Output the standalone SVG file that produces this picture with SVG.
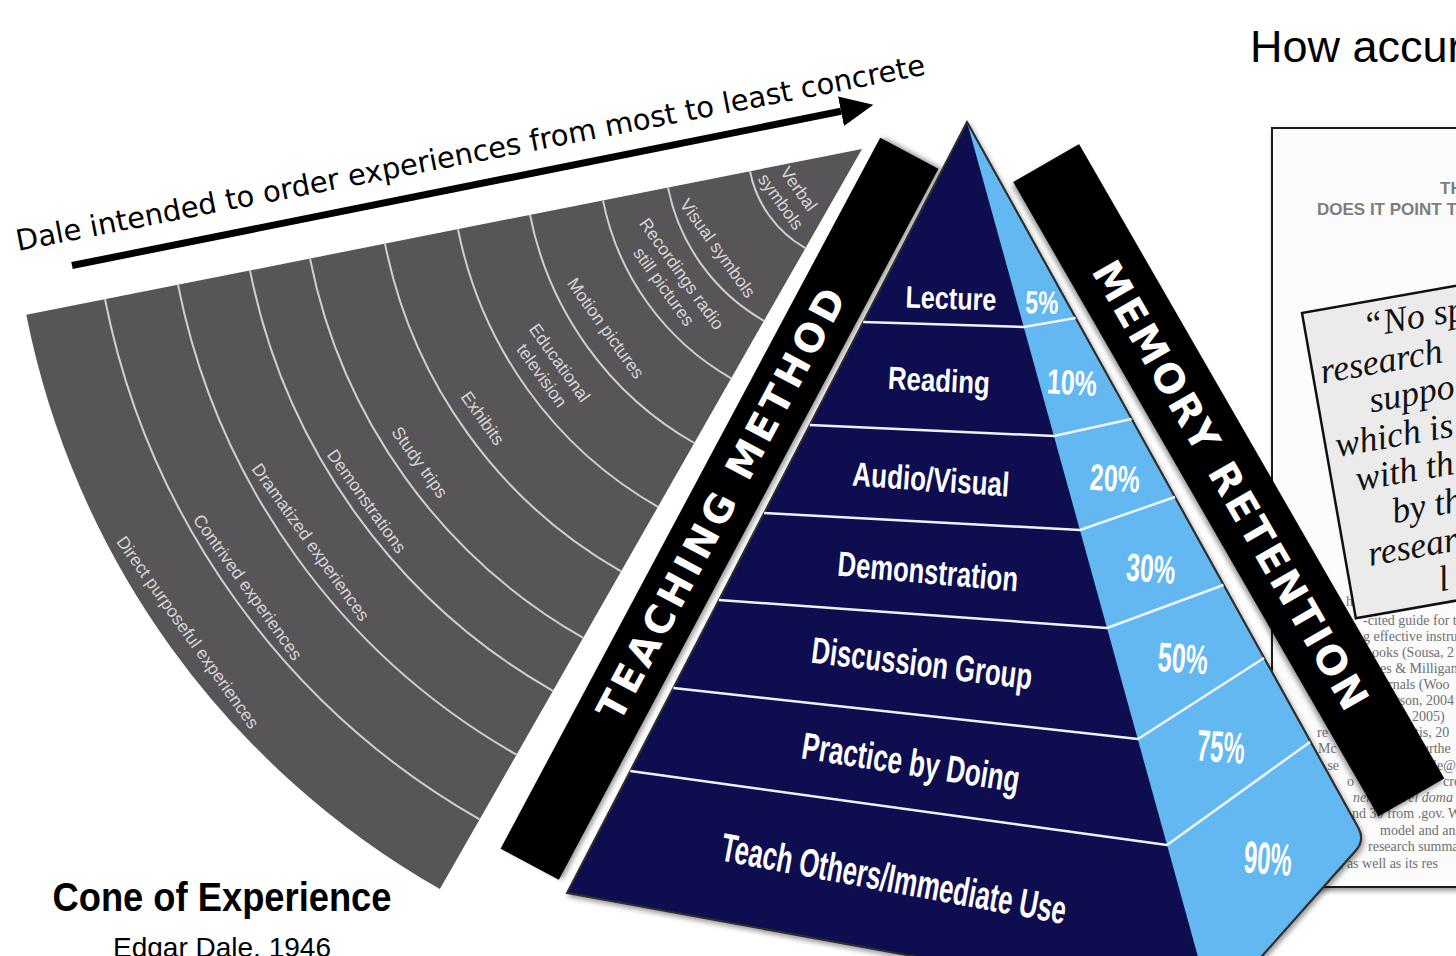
<svg xmlns="http://www.w3.org/2000/svg" width="1456" height="956" viewBox="0 0 1456 956">
<defs>
<style>
.fanlbl{font-family:"Liberation Sans",Arial,sans-serif;font-size:17.5px;fill:#d6d6d6;text-anchor:middle}
.arc{fill:none;stroke:#d0d0d0;stroke-width:2}
.band{fill:none;stroke:#eef3ff;stroke-width:2.5;stroke-linejoin:round}
.pyr{font-family:"Liberation Sans",Arial,sans-serif;font-weight:bold;fill:#fff;text-anchor:middle}
.bar{font-family:"DejaVu Sans",Verdana,sans-serif;font-weight:bold;fill:#fff;text-anchor:middle}
.body{font-family:"Liberation Serif","Times New Roman",serif;font-size:14px;fill:#6f6f6f}
.quote{font-family:"Liberation Serif","Times New Roman",serif;font-style:italic;font-size:36px;fill:#111}
</style>
<filter id="sh" x="-10%" y="-10%" width="130%" height="130%"><feDropShadow dx="2" dy="3" stdDeviation="2.5" flood-color="#000" flood-opacity="0.4"/></filter>
<marker id="ah" markerUnits="userSpaceOnUse" markerWidth="34" markerHeight="30" refX="0" refY="15" orient="auto"><path d="M0,0 L33,15 L0,30 Z" fill="#000"/></marker>
</defs>
<rect width="1456" height="956" fill="#fff"/>

<g id="cone">
<path d="M862,149 L26.3,314.8 A852,852 0 0 0 439.9,889.1 Z" fill="#575557"/>
<path class="arc" d="M105,299.2 A771.8,771.8 0 0 0 479.6,819.4"/>
<path class="arc" d="M178,284.7 A697.3,697.3 0 0 0 516.5,754.7"/>
<path class="arc" d="M250,270.4 A623.9,623.9 0 0 0 552.9,690.9"/>
<path class="arc" d="M310,258.5 A562.8,562.8 0 0 0 583.2,637.9"/>
<path class="arc" d="M385,243.6 A486.3,486.3 0 0 0 621.1,571.4"/>
<path class="arc" d="M458,229.2 A411.9,411.9 0 0 0 657.9,506.8"/>
<path class="arc" d="M530,214.9 A338.5,338.5 0 0 0 694.3,443"/>
<path class="arc" d="M603,200.4 A264,264 0 0 0 731.2,378.3"/>
<path class="arc" d="M668,187.5 A197.8,197.8 0 0 0 764,320.8"/>
<path class="arc" d="M750,171.2 A114.2,114.2 0 0 0 805.4,248.2"/>
<text class="fanlbl" transform="translate(790,195) rotate(54.5)"><tspan x="0" y="-4.7">Verbal</tspan><tspan x="0" y="17.3">symbols</tspan></text>
<text class="fanlbl" transform="translate(718,248) rotate(54.5)" y="6.3">Visual symbols</text>
<text class="fanlbl" transform="translate(673,280) rotate(54.5)"><tspan x="0" y="-4.7">Recordings radio</tspan><tspan x="0" y="17.3">still pictures</tspan></text>
<text class="fanlbl" transform="translate(606,328) rotate(54.5)" y="6.3">Motion pictures</text>
<text class="fanlbl" transform="translate(551,369) rotate(54.5)"><tspan x="0" y="-4.7">Educational</tspan><tspan x="0" y="17.3">television</tspan></text>
<text class="fanlbl" transform="translate(483,418) rotate(54.5)" y="6.3">Exhibits</text>
<text class="fanlbl" transform="translate(420,462) rotate(54.5)" y="6.3">Study trips</text>
<text class="fanlbl" transform="translate(367,501) rotate(54.5)" y="6.3">Demonstrations</text>
<text class="fanlbl" transform="translate(311,542) rotate(54.5)" y="6.3">Dramatized experiences</text>
<text class="fanlbl" transform="translate(248,587) rotate(54.5)" y="6.3">Contrived experiences</text>
<text class="fanlbl" transform="translate(188,632) rotate(54.5)" y="6.3">Direct purposeful experiences</text>
</g>

<g id="connectors">
<line x1="72" y1="265.5" x2="841" y2="111.3" stroke="#000" stroke-width="7" marker-end="url(#ah)"/>
</g>
<g id="arrow-label">
<text transform="translate(18,251) rotate(-11)" font-family="DejaVu Sans,Verdana,sans-serif" font-size="29" fill="#000">Dale intended to order experiences from most to least concrete</text>
</g>

<g id="page">
<rect x="1272" y="128" width="200" height="759" fill="#fbfbfb" stroke="#1a1a1a" stroke-width="2" filter="url(#sh)"/>
<text x="1440" y="194" font-family="Liberation Sans,Arial,sans-serif" font-weight="bold" font-size="17" fill="#7d7d7d">TH</text>
<text x="1317" y="215" font-family="Liberation Sans,Arial,sans-serif" font-weight="bold" font-size="17" fill="#7d7d7d">DOES IT POINT T</text>
<text class="body" x="1346" y="606">he</text>
<text class="body" x="1363" y="625">-cited guide for te</text>
<text class="body" x="1363" y="641">g effective instru</text>
<text class="body" x="1372" y="657">ooks (Sousa, 2</text>
<text class="body" x="1380" y="673">es &amp; Milligan</text>
<text class="body" x="1388" y="689">rnals (Woo</text>
<text class="body" x="1395" y="705">rson, 2004</text>
<text class="body" x="1405" y="721">, 2005)</text>
<text class="body" x="1317" y="737">re</text>
<text class="body" x="1415" y="737">tis, 20</text>
<text class="body" x="1318" y="753">Mc</text>
<text class="body" x="1422" y="753">urthe</text>
<text class="body" x="1320" y="770">t se</text>
<text class="body" x="1433" y="770">le@</text>
<text class="body" x="1347" y="786">o</text>
<text class="body" x="1443" y="786">cre</text>
<text class="body" x="1353" y="802" font-style="italic">ner</text>
<text class="body" x="1402" y="802" font-style="italic">vel doma</text>
<text class="body" x="1352" y="818">nd 30 from .gov. W</text>
<text class="body" x="1380" y="835">model and an i</text>
<text class="body" x="1368" y="851">research summar</text>
<text class="body" x="1336" y="868">l, as well as its res</text>
</g>

<g id="quote" transform="rotate(-10 1302 313)">
<rect x="1302" y="313" width="330" height="310" fill="#ebebeb" stroke="#111" stroke-width="2.5"/>
<text class="quote" x="1360" y="348">“No sp</text>
<text class="quote" x="1310" y="386">research</text>
<text class="quote" x="1353" y="423">suppo</text>
<text class="quote" x="1312" y="461">which is</text>
<text class="quote" x="1326" y="498">with th</text>
<text class="quote" x="1356" y="536">by th</text>
<text class="quote" x="1325" y="574">resear</text>
<text class="quote" x="1390" y="611">l</text>
</g>

<g id="memory-retention" transform="translate(1228.75,480.25) rotate(60.07)">
<rect x="-366" y="-38" width="732" height="76" fill="#000" filter="url(#sh)"/>
<text class="bar" x="5" y="15" font-size="40" textLength="511" lengthAdjust="spacing">MEMORY RETENTION</text>
</g>

<g id="teaching-method" transform="translate(719.5,508.75) rotate(-61.9)">
<rect x="-403" y="-33" width="806" height="66" fill="#000" filter="url(#sh)"/>
<text class="bar" x="5" y="13" font-size="39" textLength="483" lengthAdjust="spacing">TEACHING METHOD</text>
</g>

<g id="pyramid">
<path d="M967,122 L567,893 L1213,1011 L1355.7,850.5 Q1365,840 1358.2,827.8 Z" fill="#0b1150" stroke="#2e2e2e" stroke-width="2" filter="url(#sh)"/>
<path d="M967,122 L1213,1011 L1355.7,850.5 Q1365,840 1358.2,827.8 Z" fill="#63b8f1"/>
<path d="M967,122 L1358.2,827.8 Q1365,840 1355.7,850.5 L1213,1011" fill="none" stroke="#2e2e2e" stroke-width="2"/>
<polyline class="band" points="863.2,322 1023.8,327 1075.6,318"/>
<polyline class="band" points="809.8,425 1054,436 1131.5,419"/>
<polyline class="band" points="764.2,513 1080,530 1175,497"/>
<polyline class="band" points="719,600 1107,628 1223.5,585"/>
<polyline class="band" points="673.4,688 1138,739 1264,658"/>
<polyline class="band" points="630.3,771 1167,845 1310,742"/>
<g id="level-lecture"><text class="pyr" transform="translate(951,298) rotate(2)" y="11" font-size="31" textLength="91" lengthAdjust="spacingAndGlyphs">Lecture</text>
<text class="pyr" transform="translate(1042,302) rotate(2)" y="11.5" font-size="32" textLength="33" lengthAdjust="spacingAndGlyphs">5%</text></g>
<g id="level-reading"><text class="pyr" transform="translate(939,380) rotate(3)" y="11.5" font-size="32" textLength="102" lengthAdjust="spacingAndGlyphs">Reading</text>
<text class="pyr" transform="translate(1072,382) rotate(3)" y="12.5" font-size="35" textLength="50" lengthAdjust="spacingAndGlyphs">10%</text></g>
<g id="level-av"><text class="pyr" transform="translate(931,479) rotate(4)" y="12" font-size="34" textLength="157" lengthAdjust="spacingAndGlyphs">Audio/Visual</text>
<text class="pyr" transform="translate(1115,478) rotate(3)" y="13" font-size="37" textLength="50" lengthAdjust="spacingAndGlyphs">20%</text></g>
<g id="level-demo"><text class="pyr" transform="translate(928,571) rotate(5)" y="12.5" font-size="35" textLength="181" lengthAdjust="spacingAndGlyphs">Demonstration</text>
<text class="pyr" transform="translate(1151,568) rotate(4)" y="14" font-size="39" textLength="49" lengthAdjust="spacingAndGlyphs">30%</text></g>
<g id="level-discussion"><text class="pyr" transform="translate(922,663) rotate(7)" y="13" font-size="37" textLength="222" lengthAdjust="spacingAndGlyphs">Discussion Group</text>
<text class="pyr" transform="translate(1183,658) rotate(4)" y="14.5" font-size="41" textLength="50" lengthAdjust="spacingAndGlyphs">50%</text></g>
<g id="level-practice"><text class="pyr" transform="translate(911,762) rotate(9)" y="13.5" font-size="38" textLength="220" lengthAdjust="spacingAndGlyphs">Practice by Doing</text>
<text class="pyr" transform="translate(1221,746) rotate(4)" y="16" font-size="44" textLength="48" lengthAdjust="spacingAndGlyphs">75%</text></g>
<g id="level-teach"><text class="pyr" transform="translate(894,878) rotate(10.5)" y="14.5" font-size="40" textLength="350" lengthAdjust="spacingAndGlyphs">Teach Others/Immediate Use</text>
<text class="pyr" transform="translate(1268,858) rotate(4)" y="16" font-size="45" textLength="48" lengthAdjust="spacingAndGlyphs">90%</text></g>
</g>

<g id="titles">
<text x="222" y="911" text-anchor="middle" font-family="Liberation Sans,Arial,sans-serif" font-weight="bold" font-size="40" textLength="339" lengthAdjust="spacingAndGlyphs">Cone of Experience</text>
<text x="222" y="957" text-anchor="middle" font-family="Liberation Sans,Arial,sans-serif" font-size="28">Edgar Dale, 1946</text>
<text x="1250" y="62" font-family="Liberation Sans,Arial,sans-serif" font-size="45">How accur</text>
</g>
</svg>
